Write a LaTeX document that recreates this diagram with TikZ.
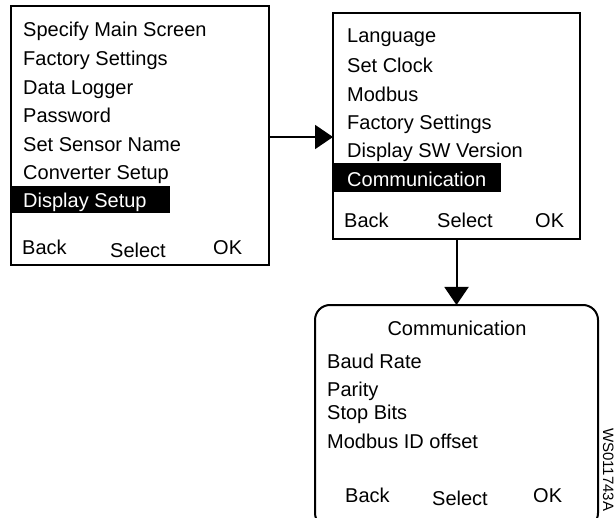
\documentclass[tikz,border=0pt]{standalone}
\usepackage{fontspec}
\setmainfont{Liberation Sans}
\usetikzlibrary{arrows.meta}

\tikzset{
  screen/.style={draw, line width=2pt, inner sep=0pt, outer sep=0pt},
  item/.style={anchor=base west, inner sep=0pt, font=\fontsize{20}{24}\selectfont},
  pick/.style={item, text=white},
  link/.style={line width=2pt, -{Triangle[length=18pt,width=24pt]}}
}

\begin{document}
\begin{tikzpicture}[x=1pt, y=-1pt]
			%%%%% START %%%%%
			\useasboundingbox (0,0) rectangle (615,518);
			\clip (0,0) rectangle (615,518);
			
			% setup menu
			\node[screen, minimum width=258pt, minimum height=259pt] (setup) at (140,135.5) {};
			\node[item] (su1) at (23,37) {Specify Main Screen};
			\node[item] (su2) at (23,66) {Factory Settings};
			\node[item] (su3) at (23,94.5) {Data Logger};
			\node[item] (su4) at (23,123) {Password};
			\node[item] (su5) at (23,151.5) {Set Sensor Name};
			\node[item] (su6) at (23,180) {Converter Setup};
			\fill (11,186) rectangle (170,213);
			\node[pick] (su7) at (23,208) {Display Setup};
			\node[item] (suback) at (22,255) {Back};
			\node[item] (susel) at (110,258) {Select};
			\node[item] (suok) at (213,255) {OK};
			
			% display setup menu
			\node[screen, minimum width=247pt, minimum height=226pt] (display) at (456.5,126) {};
			\node[item] (ds1) at (347,43) {Language};
			\node[item] (ds2) at (347,73) {Set Clock};
			\node[item] (ds3) at (347,101.5) {Modbus};
			\node[item] (ds4) at (347,130) {Factory Settings};
			\node[item] (ds5) at (347,158) {Display SW Version};
			\fill (333,163) rectangle (501,192);
			\node[pick] (ds6) at (347,186.5) {Communication};
			\node[item] (dsback) at (344,227.5) {Back};
			\node[item] (dssel) at (437,227.5) {Select};
			\node[item] (dsok) at (535,227.5) {OK};
			
			% communication menu
			\node[screen, rounded corners=15pt, minimum width=283pt, minimum height=223pt] (comm) at (456.5,416.5) {};
			\node[item, anchor=base] (cmhead) at (457,335) {Communication};
			\node[item] (cm1) at (327,368) {Baud Rate};
			\node[item] (cm2) at (327,396.5) {Parity};
			\node[item] (cm3) at (327,419.5) {Stop Bits};
			\node[item] (cm4) at (327,448) {Modbus ID offset};
			\node[item] (cmback) at (345,502) {Back};
			\node[item] (cmsel) at (432,505) {Select};
			\node[item] (cmok) at (533,502) {OK};
			
			% arrows
			\draw[link] (setup.east |- 0,137) -- (display.west |- 0,137);
			\draw[link] (display.south) -- (comm.north);
			
			\node[rotate=-90, anchor=base west, inner sep=0pt, font=\fontsize{15}{18}\selectfont] (tag) at (603,428) {WS011743A};
			%%%%% END %%%%%
\end{tikzpicture}
\end{document}
